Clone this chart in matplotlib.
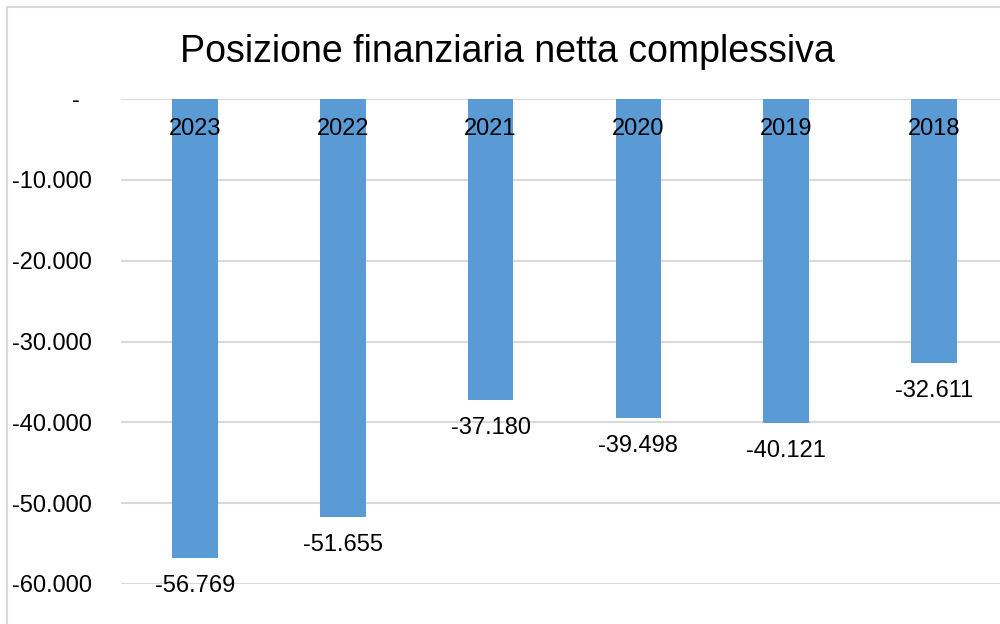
import matplotlib
matplotlib.use("Agg")
import matplotlib.pyplot as plt
from matplotlib.patches import Rectangle
from matplotlib.ticker import FuncFormatter

years = ["2023", "2022", "2021", "2020", "2019", "2018"]
values = [-56769, -51655, -37180, -39498, -40121, -32611]
y_ticks = [0, -10000, -20000, -30000, -40000, -50000, -60000]

BAR = "#5B9BD5"
GRID = "#D9D9D9"
TEXT = "#000000"

plt.rcParams["font.family"] = ["Liberation Sans", "DejaVu Sans"]


def it_fmt(v, _pos=None):
    if v == 0:
        return ""
    return f"{v:,.0f}".replace(",", ".")


fig = plt.figure(figsize=(10, 6.24), dpi=100)
fig.patch.set_facecolor("white")

# chart frame (continues past right/bottom edge of the image)
fig.patches.append(Rectangle((7 / 1000, -0.1), 1.2, 1 - 7 / 624 + 0.1,
                             transform=fig.transFigure, fill=False,
                             edgecolor=GRID, lw=1.5, zorder=0))

ax = fig.add_axes([121 / 1000, 1 - 584 / 624, 887 / 1000, 485 / 624])
x = range(len(years))
ax.bar(x, values, width=0.31, color=BAR, zorder=2)
ax.set_xlim(-0.5, len(years) - 0.5)
ax.set_ylim(-60000, 0)
ax.set_yticks(y_ticks)
ax.yaxis.set_major_formatter(FuncFormatter(it_fmt))
ax.tick_params(axis="y", length=0, pad=21, labelsize=17, colors=TEXT)
ax.set_xticks([])
ax.grid(axis="y", color=GRID, lw=1.5, zorder=0)
ax.set_axisbelow(True)
for s in ax.spines.values():
    s.set_visible(False)

# "-" label for zero (accounting style)
ax.annotate("-", xy=(0, 0), xycoords=("axes fraction", "data"),
            xytext=(-45, -2), textcoords="offset pixels",
            ha="center", va="center", fontsize=17, color=TEXT,
            annotation_clip=False)

# category labels next to the axis
for i, yr in enumerate(years):
    ax.annotate(yr, xy=(i, 0), xytext=(0, -30), textcoords="offset pixels",
                ha="center", va="center", fontsize=17, color=TEXT, zorder=5)

# value labels below bar ends
for i, v in enumerate(values):
    ax.annotate(it_fmt(v), xy=(i, v), xytext=(0, -28), textcoords="offset pixels",
                ha="center", va="center", fontsize=17, color=TEXT, zorder=5,
                annotation_clip=False)

fig.text(0.507, 1 - 52 / 624, "Posizione finanziaria netta complessiva",
         ha="center", va="center", fontsize=27, color=TEXT)

fig.savefig("out.png", dpi=100, facecolor="white")
